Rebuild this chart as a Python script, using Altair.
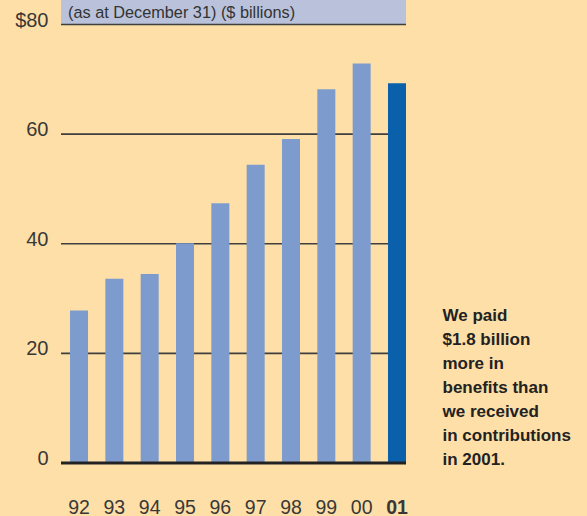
import altair as alt
import pandas as pd

years = ["92", "93", "94", "95", "96", "97", "98", "99", "00", "01"]
assets = [27.8, 33.6, 34.5, 40.1, 47.4, 54.4, 59.1, 68.2, 72.9, 69.3]
highlight_year = "01"
y_ticks = [0, 20, 40, 60, 80]
grid_values = [20, 40, 60, 80]
band_label = "(as at December 31) ($ billions)"
note_lines = ["We paid", "$1.8 billion", "more in", "benefits than",
              "we received", "in contributions", "in 2001."]

df = pd.DataFrame({"year": years, "value": assets})
grid_df = pd.DataFrame({"v": grid_values})

W, H = 345, 463
YMAX = 84.47
FONT = "Liberation Sans"
BG = "#FEDFA7"

xscale = alt.Scale(domain=years, paddingInner=0.49, paddingOuter=0.1275, align=1)
yscale = alt.Scale(domain=[0, YMAX], nice=False, zero=True)

band = alt.Chart(df).mark_rect(color="#B9C2DA").encode(
    x=alt.value(0), x2=alt.value(W), y=alt.value(0), y2=alt.value(24.5)
).transform_filter("datum.year == '92'")

band_text = alt.Chart(df).mark_text(
    align="left", baseline="middle", font=FONT, fontSize=16.3, color="#333"
).encode(
    x=alt.value(7), y=alt.value(13), text=alt.value(band_label)
).transform_filter("datum.year == '92'")

grid = alt.Chart(grid_df).mark_rule(color="#3f3f3f", strokeWidth=1.6).encode(
    y=alt.Y("v:Q", scale=yscale)
)

bars = alt.Chart(df).mark_bar().encode(
    x=alt.X("year:N", scale=xscale, sort=years,
            axis=alt.Axis(title=None, labelFontSize=19.5, labelFont=FONT, labelColor="#383838",
                          labelPadding=50, labelBaseline="alphabetic", ticks=False, tickSize=0,
                          domain=False, labelAngle=0,
                          labelFontWeight={"condition": {"test": "datum.value === '01'", "value": "bold"},
                                           "value": "normal"})),
    y=alt.Y("value:Q", scale=yscale,
            axis=alt.Axis(title=None, values=y_ticks, labelFontSize=20, labelFont=FONT,
                          labelColor="#383838", labelPadding=13, labelBaseline="alphabetic",
                          labelOffset=1.5, ticks=False, tickSize=0, domain=False, grid=False,
                          labelExpr="datum.value == 80 ? '$80' : datum.label")),
    color=alt.condition(alt.datum.year == highlight_year, alt.value("#0A60AA"), alt.value("#7D9CCD")),
)

zero = alt.Chart(df).mark_rule(color="#222", strokeWidth=3).encode(
    y=alt.datum(0)
).transform_filter("datum.year == '92'")

note = alt.Chart(df).mark_text(
    align="left", baseline="alphabetic", font=FONT, fontSize=17, fontWeight="bold",
    color="#222", lineHeight=24
).encode(
    x=alt.value(381.5), y=alt.value(320.7), text=alt.value(note_lines)
).transform_filter("datum.year == '92'")

chart = alt.layer(band, band_text, grid, bars, zero, note).properties(
    width=W, height=H, background=BG,
    autosize=alt.AutoSizeParams(type="none"),
    padding={"left": 61, "top": 0, "right": 181, "bottom": 53},
).configure_view(stroke=None)

chart.save("out.html", embed_options={"renderer": "svg", "actions": False})
